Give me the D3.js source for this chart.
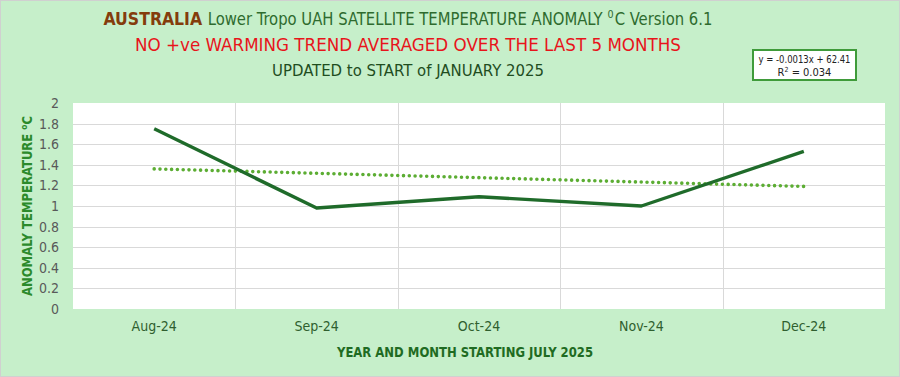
<!DOCTYPE html>
<html>
<head>
<meta charset="utf-8">
<script src="https://cdn.jsdelivr.net/npm/d3@7"></script>
<style>
  html, body { margin: 0; padding: 0; background: #c6efca; }
  svg { display: block; }
  text { font-family: "DejaVu Sans Condensed", "Roboto", sans-serif; }
</style>
</head>
<body>
<div id="chart"></div>
<script>
// chart data
const months = ["Aug-24", "Sep-24", "Oct-24", "Nov-24", "Dec-24"];
const anomaly = [1.75, 0.98, 1.09, 1.00, 1.53];
// trendline end points as drawn (linear fit)
const trendMonths = ["Aug-24", "Dec-24"];
const trendValues = [1.36, 1.19];
const yTicks = [0, 0.2, 0.4, 0.6, 0.8, 1, 1.2, 1.4, 1.6, 1.8, 2];

const W = 900, H = 377;
const plot = { left: 73, right: 885, top: 103, bottom: 309 };

const svg = d3.select("#chart")
    .append("svg")
    .attr("width", W)
    .attr("height", H);

// background + border
svg.append("rect")
    .attr("x", 0.5).attr("y", 0.5)
    .attr("width", W - 1).attr("height", H - 1)
    .attr("fill", "#c6efca")
    .attr("stroke", "#d0d0d0");

svg.append("rect")
    .attr("x", plot.left).attr("y", plot.top)
    .attr("width", plot.right - plot.left)
    .attr("height", plot.bottom - plot.top)
    .attr("fill", "#ffffff");

const x = d3.scaleBand()
    .domain(months)
    .range([plot.left, plot.right])
    .padding(0);

const y = d3.scaleLinear()
    .domain([0, 2])
    .range([plot.bottom, plot.top]);

const cx = d => x(d) + x.bandwidth() / 2;

// horizontal gridlines
svg.append("g")
    .selectAll("line")
    .data(yTicks.filter(t => t > 0 && t < 2))
    .join("line")
    .attr("x1", plot.left).attr("x2", plot.right)
    .attr("y1", d => Math.round(y(d)) + 0.5)
    .attr("y2", d => Math.round(y(d)) + 0.5)
    .attr("stroke", "#d9d9d9")
    .attr("stroke-width", 1);

// vertical gridlines between categories
svg.append("g")
    .selectAll("line")
    .data(months.slice(1))
    .join("line")
    .attr("x1", d => Math.round(x(d)) + 0.5)
    .attr("x2", d => Math.round(x(d)) + 0.5)
    .attr("y1", plot.top).attr("y2", plot.bottom)
    .attr("stroke", "#d9d9d9")
    .attr("stroke-width", 1);

// y axis labels
const yAxis = svg.append("g")
    .attr("transform", `translate(${plot.left - 14},0)`)
    .call(d3.axisLeft(y).tickValues(yTicks).tickSize(0).tickPadding(0).tickFormat(d3.format("~g")));
yAxis.select(".domain").remove();
yAxis.selectAll("text")
    .attr("font-family", "Liberation Sans, Arial, sans-serif")
    .attr("font-size", 14)
    .attr("fill", "#595959");

// x axis labels
const xAxis = svg.append("g")
    .attr("transform", `translate(0,${plot.bottom})`)
    .call(d3.axisBottom(x).tickSize(0).tickPadding(12));
xAxis.select(".domain").remove();
xAxis.selectAll("text")
    .attr("font-size", 14)
    .attr("fill", "#2f5f2f");

// trendline (dotted)
const trendData = trendMonths.map((m, i) => ({ m, v: trendValues[i] }));
svg.append("path")
    .datum(trendData)
    .attr("d", d3.line().x(d => cx(d.m)).y(d => y(d.v)))
    .attr("fill", "none")
    .attr("stroke", "#5cad33")
    .attr("stroke-width", 3.6)
    .attr("stroke-linecap", "round")
    .attr("stroke-dasharray", "0 5.8");

// main series
const series = months.map((m, i) => ({ m, v: anomaly[i] }));
svg.append("path")
    .datum(series)
    .attr("d", d3.line().x(d => cx(d.m)).y(d => y(d.v)))
    .attr("fill", "none")
    .attr("stroke", "#1f6b2a")
    .attr("stroke-width", 3.4)
    .attr("stroke-linejoin", "round");

// title line 1: pieces laid out side by side, then squeezed to the reference width
const t1Parts = [
    { text: "AUSTRALIA ", size: 18, weight: "bold", fill: "#843c0c", dy: 0 },
    { text: "Lower Tropo UAH SATELLITE TEMPERATURE ANOMALY ", size: 17, weight: "normal", fill: "#2e6b2e", dy: 0 },
    { text: "0", size: 11, weight: "normal", fill: "#2e6b2e", dy: -7 },
    { text: "C Version 6.1", size: 17, weight: "normal", fill: "#2e6b2e", dy: 0 }
];
const t1Inner = svg.append("g");
let cursor = 0;
t1Parts.forEach(p => {
    const t = t1Inner.append("text")
        .attr("x", cursor).attr("y", p.dy)
        .attr("font-size", p.size)
        .attr("font-weight", p.weight)
        .attr("fill", p.fill)
        .attr("xml:space", "preserve")
        .style("white-space", "pre")
        .text(p.text);
    cursor += t.node().getComputedTextLength() + (p.text === "0" ? 1 : 0);
});
const t1Width = 609;
const sx = t1Width / cursor;
t1Inner.attr("transform", `translate(${408 - t1Width / 2},25) scale(${sx},1)`);

svg.append("text")
    .attr("x", 408).attr("y", 51)
    .attr("text-anchor", "middle")
    .attr("font-size", 18)
    .attr("fill", "#e8141b")
    .attr("textLength", 546).attr("lengthAdjust", "spacingAndGlyphs")
    .text("NO +ve WARMING TREND AVERAGED OVER THE LAST 5 MONTHS");

svg.append("text")
    .attr("x", 408).attr("y", 76)
    .attr("text-anchor", "middle")
    .attr("font-size", 15.5)
    .attr("fill", "#1f4d1f")
    .attr("textLength", 272).attr("lengthAdjust", "spacingAndGlyphs")
    .text("UPDATED to START of JANUARY 2025");

// equation box
svg.append("rect")
    .attr("x", 753).attr("y", 50)
    .attr("width", 103).attr("height", 30)
    .attr("fill", "#ffffff")
    .attr("stroke", "#3f9b3a")
    .attr("stroke-width", 2);
svg.append("text")
    .attr("x", 804.5).attr("y", 63)
    .attr("text-anchor", "middle")
    .attr("font-family", "Liberation Sans, Arial, sans-serif")
    .attr("font-size", 11)
    .attr("fill", "#222")
    .attr("textLength", 92).attr("lengthAdjust", "spacingAndGlyphs")
    .text("y = -0.0013x + 62.41");
const r2 = svg.append("text")
    .attr("x", 804.5).attr("y", 76)
    .attr("text-anchor", "middle")
    .attr("font-family", "Liberation Sans, Arial, sans-serif")
    .attr("font-size", 11)
    .attr("fill", "#222");
r2.append("tspan").text("R");
r2.append("tspan").text("2").attr("font-size", 7).attr("dy", -4);
r2.append("tspan").text(" = 0.034").attr("dy", 4);

// y axis title
const yt = svg.append("text")
    .attr("transform", `translate(32,${(plot.top + plot.bottom) / 2}) rotate(-90)`)
    .attr("text-anchor", "middle")
    .attr("font-weight", "bold")
    .attr("font-size", 14)
    .attr("fill", "#2b8a2b")
    .attr("textLength", 180).attr("lengthAdjust", "spacingAndGlyphs");
yt.append("tspan").text("ANOMALY TEMPERATURE ");
yt.append("tspan").text("o").attr("font-size", 9).attr("dy", -5);
yt.append("tspan").text("C").attr("dy", 5);

// x axis title
svg.append("text")
    .attr("x", 465).attr("y", 357)
    .attr("text-anchor", "middle")
    .attr("font-weight", "bold")
    .attr("font-size", 14)
    .attr("fill", "#1f6b22")
    .attr("textLength", 256).attr("lengthAdjust", "spacingAndGlyphs")
    .text("YEAR AND MONTH STARTING JULY 2025");
</script>
</body>
</html>
